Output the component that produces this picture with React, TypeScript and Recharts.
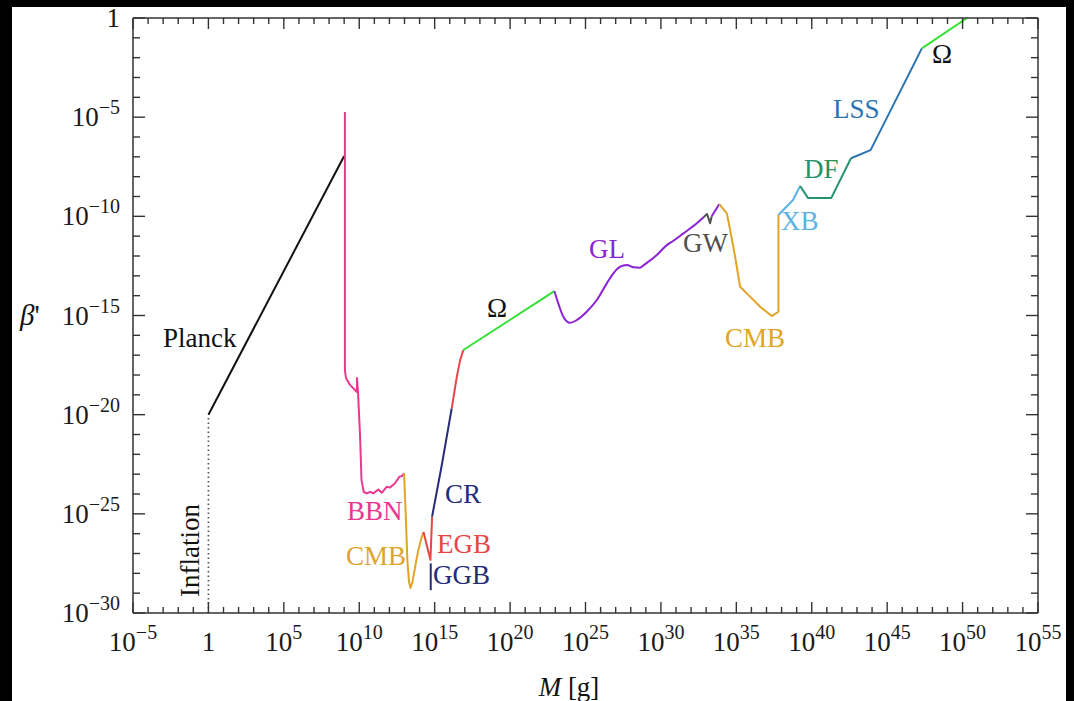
import React from 'react';
import { LineChart, Line, XAxis, YAxis } from 'recharts';

// every series is stored as log10(M [g]) and log10(beta')
const inflationLogM = [0, 0];
const inflationLogBeta = [-30, -20];

const planckLogM = [0, 9.0];
const planckLogBeta = [-20, -6.96];

const bbnLogM = [9.05, 9.05, 9.12, 9.39, 9.72, 9.85, 9.85, 9.92, 10.05, 10.15, 10.3, 10.51, 10.72, 10.93, 11.27, 11.49, 11.82, 12.04, 12.37, 12.66, 12.82, 12.97];
const bbnLogBeta = [-4.74, -17.75, -18.15, -18.5, -18.76, -18.86, -18.15, -18.9, -21.0, -23.3, -23.9, -23.97, -23.89, -23.97, -23.77, -23.94, -23.64, -23.67, -23.46, -23.13, -23.1, -22.96];

const cmbLowLogM = [12.97, 13.07, 13.19, 13.3, 13.4, 13.53, 13.75, 13.92, 14.14, 14.26];
const cmbLowLogBeta = [-22.96, -24.81, -27.33, -28.44, -28.74, -28.44, -27.48, -26.83, -26.17, -25.92];

const egbLogM = [14.26, 14.72, 14.83];
const egbLogBeta = [-25.92, -27.33, -25.14];

const ggbLogM = [14.74, 14.74];
const ggbLogBeta = [-27.5, -28.85];

const crLogM = [14.83, 15.47, 16.13];
const crLogBeta = [-25.14, -22.55, -19.68];

const crRedLogM = [16.13, 16.47, 16.69, 16.9];
const crRedLogBeta = [-19.68, -18.08, -17.25, -16.74];

const omegaLowLogM = [16.9, 22.94];
const omegaLowLogBeta = [-16.74, -13.77];

const glLogM = [22.94, 23.2, 23.53, 23.98, 24.42, 25.08, 25.75, 26.41, 26.85, 27.3, 27.74, 28.18, 28.62, 28.84, 29.73, 30.39, 30.83, 31.49, 32.38, 32.86];
const glLogBeta = [-13.77, -14.4, -15.06, -15.37, -15.23, -14.81, -14.22, -13.38, -12.87, -12.54, -12.45, -12.57, -12.59, -12.47, -11.95, -11.45, -11.23, -10.86, -10.35, -10.02];

const gwLogM = [32.86, 33.06, 33.26, 33.37];
const gwLogBeta = [-10.02, -9.88, -10.35, -10.0];

const glTailLogM = [33.37, 33.87];
const glTailLogBeta = [-10.0, -9.38];

const cmbHighLogM = [33.87, 34.37, 34.59, 34.92, 35.25, 35.91, 36.58, 37.35, 37.79, 37.79];
const cmbHighLogBeta = [-9.38, -9.85, -10.69, -12.04, -13.55, -14.05, -14.56, -15.03, -14.81, -9.93];

const xbLogM = [37.79, 38.76, 39.23];
const xbLogBeta = [-9.93, -9.18, -8.47];

const dfLogM = [39.23, 39.76, 41.29, 42.6];
const dfLogBeta = [-8.47, -9.08, -9.08, -7.07];

const lssLogM = [42.6, 43.9, 47.3];
const lssLogBeta = [-7.07, -6.66, -1.53];

const omegaHighLogM = [47.3, 50.3];
const omegaHighLogBeta = [-1.53, 0];

// axis decades
const xMajorExps = [-5, 0, 5, 10, 15, 20, 25, 30, 35, 40, 45, 50, 55];
const yMajorExps = [-30, -25, -20, -15, -10, -5, 0];
const xTickValues = Array.from({ length: 61 }, (_, i) => 10 ** (i - 5));
const yTickValues = Array.from({ length: 31 }, (_, i) => 10 ** (i - 30));

const toPoints = (lm: number[], lb: number[]) => lm.map((v, i) => ({ m: 10 ** v, b: 10 ** lb[i] }));

const series = [
  { key: 'inflation', lm: inflationLogM, lb: inflationLogBeta, color: '#4a4a4a', width: 1.6, dash: '1.5 3' },
  { key: 'planck', lm: planckLogM, lb: planckLogBeta, color: '#111111', width: 2 },
  { key: 'bbn', lm: bbnLogM, lb: bbnLogBeta, color: '#e9378f', width: 2 },
  { key: 'cmbLow', lm: cmbLowLogM, lb: cmbLowLogBeta, color: '#e0a526', width: 2 },
  { key: 'egb', lm: egbLogM, lb: egbLogBeta, color: '#e84646', width: 2 },
  { key: 'ggb', lm: ggbLogM, lb: ggbLogBeta, color: '#252b7a', width: 2 },
  { key: 'cr', lm: crLogM, lb: crLogBeta, color: '#252b7a', width: 2 },
  { key: 'crRed', lm: crRedLogM, lb: crRedLogBeta, color: '#e84646', width: 2 },
  { key: 'omegaLow', lm: omegaLowLogM, lb: omegaLowLogBeta, color: '#35e035', width: 2 },
  { key: 'gl', lm: glLogM, lb: glLogBeta, color: '#8b22d6', width: 2, curve: 'monotone' },
  { key: 'gw', lm: gwLogM, lb: gwLogBeta, color: '#505050', width: 2 },
  { key: 'glTail', lm: glTailLogM, lb: glTailLogBeta, color: '#8b22d6', width: 2 },
  { key: 'cmbHigh', lm: cmbHighLogM, lb: cmbHighLogBeta, color: '#e0a526', width: 2 },
  { key: 'xb', lm: xbLogM, lb: xbLogBeta, color: '#5bb3e3', width: 2 },
  { key: 'df', lm: dfLogM, lb: dfLogBeta, color: '#22956a', width: 2 },
  { key: 'lss', lm: lssLogM, lb: lssLogBeta, color: '#2b74b3', width: 2 },
  { key: 'omegaHigh', lm: omegaHighLogM, lb: omegaHighLogBeta, color: '#35e035', width: 2 },
];

// annotations: left x and baseline y in page pixels
const labels = [
  { text: 'Planck', x: 163, y: 347, color: '#111' },
  { text: 'BBN', x: 347, y: 520, color: '#e9378f' },
  { text: 'CMB', x: 346, y: 565, color: '#e0a526' },
  { text: 'EGB', x: 437, y: 553, color: '#e84646' },
  { text: 'GGB', x: 433, y: 584, color: '#252b7a' },
  { text: 'CR', x: 445, y: 503, color: '#252b7a' },
  { text: 'Ω', x: 487, y: 317, color: '#111' },
  { text: 'GL', x: 589, y: 258, color: '#8b22d6' },
  { text: 'GW', x: 683, y: 252, color: '#505050' },
  { text: 'CMB', x: 725, y: 347, color: '#e0a526' },
  { text: 'XB', x: 781, y: 230, color: '#5bb3e3' },
  { text: 'DF', x: 804, y: 178, color: '#22956a' },
  { text: 'LSS', x: 833, y: 118, color: '#2b74b3' },
  { text: 'Ω', x: 932, y: 63, color: '#111' },
];

const FONT = '"Liberation Serif", "Times New Roman", serif';
const AXIS = '#333333';

const expOf = (v: number) => Math.round(Math.log10(v));
const sup = (e: number) => (e < 0 ? '\u2212' + -e : String(e));

const Power = ({ e }: { e: number }) =>
  e === 0 ? <>1</> : (
    <>
      10<tspan dy={-12} fontSize={20}>{sup(e)}</tspan>
    </>
  );

const BottomTick = ({ x, y, payload }: any) => {
  const e = expOf(payload.value);
  const major = xMajorExps.includes(e);
  return (
    <g>
      <line x1={x} x2={x} y1={y} y2={y - (major ? 11 : 6)} stroke={AXIS} strokeWidth={1.4} />
      {major && (
        <text x={x} y={y + 38} textAnchor="middle" fontFamily={FONT} fontSize={27} fill="#1a1a1a">
          <Power e={e} />
        </text>
      )}
    </g>
  );
};

const TopTick = ({ x, y, payload }: any) => {
  const major = xMajorExps.includes(expOf(payload.value));
  return <line x1={x} x2={x} y1={y} y2={y + (major ? 11 : 6)} stroke={AXIS} strokeWidth={1.4} />;
};

const LeftTick = ({ x, y, payload }: any) => {
  const e = expOf(payload.value);
  const major = yMajorExps.includes(e);
  return (
    <g>
      <line x1={x} x2={x + (major ? 12 : 7)} y1={y} y2={y} stroke={AXIS} strokeWidth={1.4} />
      {major && (
        <text x={x - 13} y={y + 9} textAnchor="end" fontFamily={FONT} fontSize={27} fill="#1a1a1a">
          <Power e={e} />
        </text>
      )}
    </g>
  );
};

const RightTick = ({ x, y, payload }: any) => {
  const major = yMajorExps.includes(expOf(payload.value));
  return <line x1={x} x2={x - (major ? 12 : 7)} y1={y} y2={y} stroke={AXIS} strokeWidth={1.4} />;
};

const axisLine = { stroke: AXIS, strokeWidth: 1.5 };

export default function App() {
  return (
    <div style={{ position: 'absolute', left: 0, top: 0, width: 1074, height: 701, background: '#000', overflow: 'hidden' }}>
      <div style={{ position: 'absolute', left: 12, top: 7, width: 1054, height: 694, background: '#fff' }} />
      <div style={{ position: 'absolute', left: 0, top: 0 }}>
        <LineChart width={1074} height={701} margin={{ top: 17, right: 35, bottom: 0, left: 0 }}>
          <XAxis
            dataKey="m"
            type="number"
            scale="log"
            domain={[1e-5, 1e55]}
            allowDataOverflow
            ticks={xTickValues}
            interval={0}
            height={88}
            tickSize={0}
            tickMargin={0}
            tickLine={false}
            axisLine={axisLine}
            tick={<BottomTick />}
          />
          <XAxis
            xAxisId="top"
            orientation="top"
            dataKey="m"
            type="number"
            scale="log"
            domain={[1e-5, 1e55]}
            allowDataOverflow
            ticks={xTickValues}
            interval={0}
            height={1}
            tickSize={0}
            tickMargin={0}
            tickLine={false}
            axisLine={axisLine}
            tick={<TopTick />}
          />
          <YAxis
            type="number"
            scale="log"
            domain={[1e-30, 1]}
            allowDataOverflow
            ticks={yTickValues}
            interval={0}
            width={133}
            tickSize={0}
            tickMargin={0}
            tickLine={false}
            axisLine={axisLine}
            tick={<LeftTick />}
          />
          <YAxis
            yAxisId="right"
            orientation="right"
            type="number"
            scale="log"
            domain={[1e-30, 1]}
            allowDataOverflow
            ticks={yTickValues}
            interval={0}
            width={1}
            tickSize={0}
            tickMargin={0}
            tickLine={false}
            axisLine={axisLine}
            tick={<RightTick />}
          />
          {series.map((s) => (
            <Line
              key={s.key}
              data={toPoints(s.lm, s.lb)}
              dataKey="b"
              type={(s as any).curve ?? 'linear'}
              stroke={s.color}
              strokeWidth={s.width}
              strokeDasharray={s.dash}
              strokeLinejoin="round"
              dot={false}
              activeDot={false}
              isAnimationActive={false}
            />
          ))}
        </LineChart>
      </div>
      <svg width={1074} height={701} style={{ position: 'absolute', left: 0, top: 0, pointerEvents: 'none' }}>
        {labels.map((l, i) => (
          <text key={i} x={l.x} y={l.y} fontFamily={FONT} fontSize={27} fill={l.color}>
            {l.text}
          </text>
        ))}
        <text transform="translate(199,597) rotate(-90)" fontFamily={FONT} fontSize={27} fill="#111">
          Inflation
        </text>
        <text x={20} y={325} fontFamily={FONT} fontSize={29} fill="#111">
          <tspan fontStyle="italic">β</tspan>'
        </text>
        <text x={569} y={696} textAnchor="middle" fontFamily={FONT} fontSize={27} fill="#111">
          <tspan fontStyle="italic">M</tspan> [g]
        </text>
      </svg>
    </div>
  );
}
